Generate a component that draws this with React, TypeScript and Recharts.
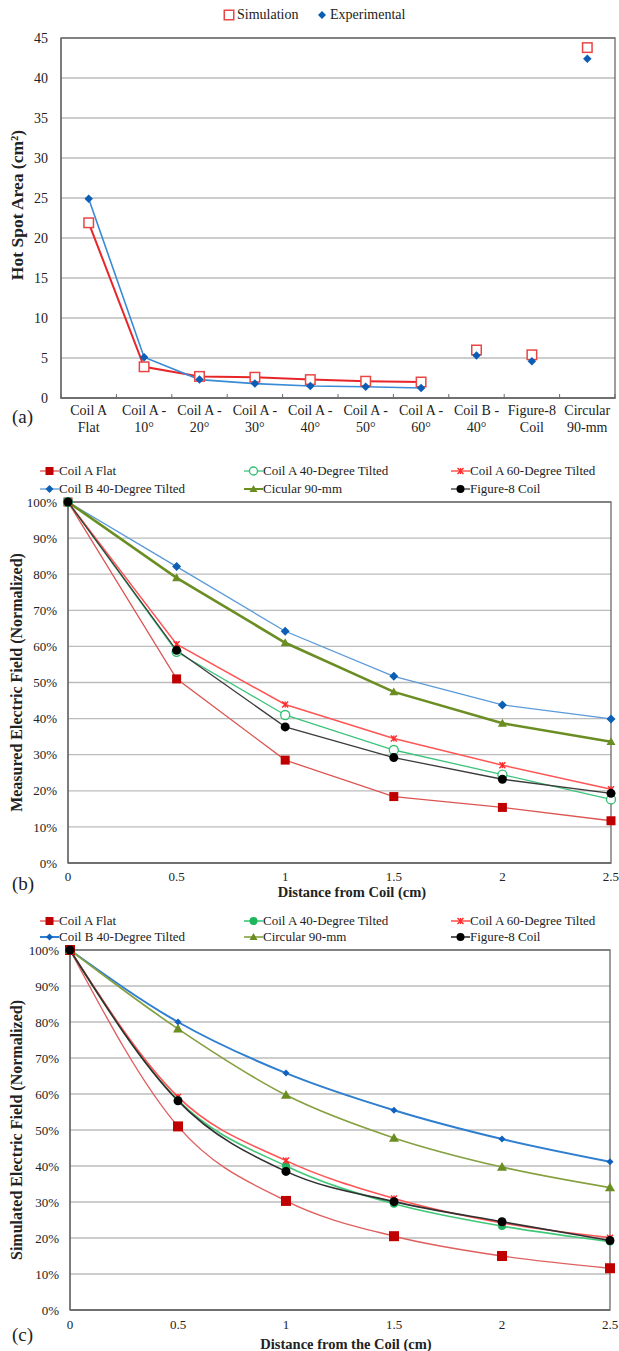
import React from 'react';
import { LineChart, Line, XAxis, YAxis, CartesianGrid, Legend, ReferenceArea, Label } from 'recharts';

const FONT = '"Liberation Serif", "Times New Roman", serif';
const TEXT = '#222';
const AXIS = '#6a6a6a';
const GRID = '#bcbcbc';

// ---- (a) hot spot area per coil ----
const catLine1 = ['Coil A', 'Coil A -', 'Coil A -', 'Coil A -', 'Coil A -', 'Coil A -', 'Coil A -', 'Coil B -', 'Figure-8', 'Circular'];
const catLine2 = ['Flat', '10°', '20°', '30°', '40°', '50°', '60°', '40°', 'Coil', '90-mm'];
const simulation = [21.9, 3.9, 2.7, 2.6, 2.3, 2.1, 2.0, 6.0, 5.4, 43.8];
const experimental = [24.9, 5.1, 2.3, 1.8, 1.5, 1.4, 1.25, 5.3, 4.6, 42.4];
const joinedCount = 7; // only the Coil A tilt points are joined
const areaTicks = [0, 5, 10, 15, 20, 25, 30, 35, 40, 45];

// ---- (b) measured / (c) simulated field vs distance ----
const distances = [0, 0.5, 1, 1.5, 2, 2.5];
const distanceTicks = [0, 0.5, 1, 1.5, 2, 2.5];
const percentTicks = [0, 10, 20, 30, 40, 50, 60, 70, 80, 90, 100];

const mCoilAFlat = [100, 51, 28.5, 18.4, 15.4, 11.7];
const mCoilA40 = [100, 58.5, 41, 31.3, 24.5, 17.6];
const mCoilA60 = [100, 60.6, 43.9, 34.5, 27.1, 20.4];
const mCoilB40 = [100, 82.1, 64.2, 51.7, 43.8, 39.9];
const mCircular = [100, 79, 61, 47.4, 38.7, 33.6];
const mFigure8 = [100, 58.9, 37.7, 29.2, 23.2, 19.3];

const sCoilAFlat = [100, 51, 30.3, 20.5, 15, 11.6];
const sCoilA40 = [100, 58.3, 40, 29.5, 23.3, 19];
const sCoilA60 = [100, 59.2, 41.5, 31, 24.2, 20.1];
const sCoilB40 = [100, 80, 65.8, 55.5, 47.5, 41.2];
const sCircular = [100, 78.1, 59.7, 47.8, 39.7, 34];
const sFigure8 = [100, 58.1, 38.5, 30.1, 24.5, 19.3];

type Kind = 'square' | 'openSquare' | 'diamond' | 'circle' | 'openCircle' | 'triangle' | 'star';

function Marker({ kind, cx, cy, color, size }: { kind: Kind; cx: number; cy: number; color: string; size: number }) {
  const h = size / 2;
  switch (kind) {
    case 'square':
      return <rect x={cx - h} y={cy - h} width={size} height={size} fill={color} />;
    case 'openSquare':
      return <rect x={cx - h} y={cy - h} width={size} height={size} fill="#fff" stroke={color} strokeWidth={1.5} />;
    case 'diamond':
      return <path d={`M${cx},${cy - h}L${cx + h},${cy}L${cx},${cy + h}L${cx - h},${cy}Z`} fill={color} />;
    case 'circle':
      return <circle cx={cx} cy={cy} r={h} fill={color} />;
    case 'openCircle':
      return <circle cx={cx} cy={cy} r={h} fill="#fff" stroke={color} strokeWidth={1.3} />;
    case 'triangle':
      return <path d={`M${cx},${cy - h}L${cx + h},${cy + h * 0.75}L${cx - h},${cy + h * 0.75}Z`} fill={color} />;
    case 'star':
      return (
        <g stroke={color} strokeWidth={1.4}>
          <line x1={cx - h} y1={cy - h} x2={cx + h} y2={cy + h} />
          <line x1={cx - h} y1={cy + h} x2={cx + h} y2={cy - h} />
          <line x1={cx} y1={cy - h} x2={cx} y2={cy + h} />
        </g>
      );
  }
  return null;
}

const dotFor = (kind: Kind, color: string, size: number) => (p: any) =>
  p.cy == null || p.value == null ? (
    <g key={`dot-${p.index}`} />
  ) : (
    <Marker key={`dot-${p.index}`} kind={kind} cx={p.cx} cy={p.cy} color={color} size={size} />
  );

// ---------- chart (a) ----------
const areaRows = catLine1.map((l1, i) => ({
  cat: `${l1}\n${catLine2[i]}`,
  simLine: i < joinedCount ? simulation[i] : null,
  expLine: i < joinedCount ? experimental[i] : null,
  simPt: i >= joinedCount ? simulation[i] : null,
  expPt: i >= joinedCount ? experimental[i] : null,
}));

const A_LEFT = 61;
const A_RIGHT = 615;
const BAND_A = (A_RIGHT - A_LEFT) / catLine1.length;

function CategoryTick(props: any) {
  const { x, y, payload, index } = props;
  const [top, bottom] = String(payload.value).split('\n');
  return (
    <g>
      <line x1={x - BAND_A / 2} x2={x - BAND_A / 2} y1={y - 4} y2={y + 1} stroke={AXIS} />
      {index === catLine1.length - 1 && <line x1={x + BAND_A / 2} x2={x + BAND_A / 2} y1={y - 4} y2={y + 1} stroke={AXIS} />}
      <text x={x} y={y + 16.5} textAnchor="middle" fontSize={14} fill={TEXT} fontFamily={FONT}>
        {top}
      </text>
      <text x={x} y={y + 34} textAnchor="middle" fontSize={14} fill={TEXT} fontFamily={FONT}>
        {bottom}
      </text>
    </g>
  );
}

function AreaLegend() {
  return (
    <div style={{ position: 'relative', width: 619, height: 30, fontFamily: FONT, fontSize: 14, color: TEXT }}>
      <svg style={{ position: 'absolute', left: 223, top: 9 }} width={12} height={12}>
        <Marker kind="openSquare" cx={6} cy={6} color="#e84545" size={9.5} />
      </svg>
      <span style={{ position: 'absolute', left: 237, top: 6, lineHeight: '18px' }}>Simulation</span>
      <svg style={{ position: 'absolute', left: 316, top: 9 }} width={12} height={12}>
        <Marker kind="diamond" cx={6} cy={6} color="#0b5db5" size={8} />
      </svg>
      <span style={{ position: 'absolute', left: 330, top: 6, lineHeight: '18px' }}>Experimental</span>
    </div>
  );
}

function AreaChart() {
  return (
    <LineChart width={619} height={450} data={areaRows} margin={{ top: 38, right: 619 - A_RIGHT, bottom: 0, left: 0 }}>
      <CartesianGrid vertical={false} stroke={GRID} strokeWidth={1.3} />
      <ReferenceArea y1={0} y2={45} fill="none" stroke={AXIS} strokeWidth={1.3} ifOverflow="visible" />
      <XAxis
        dataKey="cat"
        scale="band"
        interval={0}
        height={52}
        tickSize={0}
        tickMargin={0}
        axisLine={{ stroke: AXIS, strokeWidth: 1.3 }}
        tickLine={false}
        tick={<CategoryTick />}
      />
      <YAxis
        width={A_LEFT}
        domain={[0, 45]}
        ticks={areaTicks}
        tickSize={0}
        tickMargin={13}
        axisLine={{ stroke: AXIS, strokeWidth: 1.3 }}
        tickLine={false}
        tick={{ fontSize: 14, fill: TEXT, fontFamily: FONT }}
      >
        <Label
          content={() => (
            <text transform="translate(23,205) rotate(-90)" textAnchor="middle" fontSize={17.5} fontWeight="bold" fill={TEXT} fontFamily={FONT}>
              Hot Spot Area (cm²)
            </text>
          )}
        />
      </YAxis>
      <Legend verticalAlign="middle" align="center" wrapperStyle={{ top: 0, left: 0, width: 619, height: 30 }} content={() => <AreaLegend />} />
      <Line dataKey="simLine" name="Simulation" stroke="#e8262a" strokeWidth={2} dot={dotFor('openSquare', '#e84545', 9.5)} activeDot={false} isAnimationActive={false} />
      <Line dataKey="expLine" name="Experimental" stroke="#3a8bd6" strokeWidth={1.6} dot={dotFor('diamond', '#0b5db5', 8.5)} activeDot={false} isAnimationActive={false} />
      <Line dataKey="simPt" legendType="none" stroke="none" dot={dotFor('openSquare', '#e84545', 9.5)} activeDot={false} isAnimationActive={false} />
      <Line dataKey="expPt" legendType="none" stroke="none" dot={dotFor('diamond', '#0b5db5', 8.5)} activeDot={false} isAnimationActive={false} />
    </LineChart>
  );
}

// ---------- charts (b) and (c) ----------
type Series = { key: string; name: string; values: number[]; stroke: string; width: number; kind: Kind; color: string; size: number };

const measuredSeries: Series[] = [
  { key: 'flat', name: 'Coil A Flat', values: mCoilAFlat, stroke: '#dc5450', width: 1.3, kind: 'square', color: '#c00000', size: 9 },
  { key: 'a40', name: 'Coil A 40-Degree Tilted', values: mCoilA40, stroke: '#3cc47c', width: 1.3, kind: 'openCircle', color: '#2fbf6f', size: 9 },
  { key: 'a60', name: 'Coil A 60-Degree Tilted', values: mCoilA60, stroke: '#ff5555', width: 1.5, kind: 'star', color: '#ff2a2a', size: 6 },
  { key: 'b40', name: 'Coil B 40-Degree Tilted', values: mCoilB40, stroke: '#5a9ad8', width: 1.3, kind: 'diamond', color: '#0b5fb5', size: 9 },
  { key: 'circ', name: 'Cicular 90-mm', values: mCircular, stroke: '#6b8e23', width: 2.6, kind: 'triangle', color: '#6b8e23', size: 9 },
  { key: 'fig8', name: 'Figure-8 Coil', values: mFigure8, stroke: '#3c3c3c', width: 1.3, kind: 'circle', color: '#000', size: 9 },
];

const simulatedSeries: Series[] = [
  { key: 'flat', name: 'Coil A Flat', values: sCoilAFlat, stroke: '#e06060', width: 1.4, kind: 'square', color: '#c00000', size: 10 },
  { key: 'a40', name: 'Coil A 40-Degree Tilted', values: sCoilA40, stroke: '#40c878', width: 1.6, kind: 'circle', color: '#1fb45e', size: 8 },
  { key: 'a60', name: 'Coil A 60-Degree Tilted', values: sCoilA60, stroke: '#ff5555', width: 1.6, kind: 'star', color: '#ff2a2a', size: 6 },
  { key: 'b40', name: 'Coil B 40-Degree Tilted', values: sCoilB40, stroke: '#2f7fd0', width: 2, kind: 'diamond', color: '#1060c0', size: 7 },
  { key: 'circ', name: 'Circular 90-mm', values: sCircular, stroke: '#86a040', width: 1.6, kind: 'triangle', color: '#6b8e23', size: 10 },
  { key: 'fig8', name: 'Figure-8 Coil', values: sFigure8, stroke: '#303030', width: 1.6, kind: 'circle', color: '#000', size: 9 },
];

const legendCols = [40, 244, 451];

function SeriesLegend({ series, rows }: { series: Series[]; rows: number[] }) {
  return (
    <div style={{ position: 'relative', width: 619, height: 48, fontFamily: FONT, fontSize: 13, color: TEXT }}>
      {series.map((s, i) => {
        const left = legendCols[i % 3];
        const cy = rows[Math.floor(i / 3)];
        return (
          <React.Fragment key={s.key}>
            <svg style={{ position: 'absolute', left, top: cy - 6 }} width={19} height={12}>
              <line x1={0} x2={19} y1={6} y2={6} stroke={s.stroke} strokeWidth={Math.min(s.width, 2)} />
              <Marker kind={s.kind} cx={9.5} cy={6} color={s.color} size={Math.min(s.size, 8)} />
            </svg>
            <span style={{ position: 'absolute', left: left + 19, top: cy - 9, lineHeight: '18px', whiteSpace: 'nowrap' }}>{s.name}</span>
          </React.Fragment>
        );
      })}
    </div>
  );
}

function FieldChart({
  series,
  height,
  top,
  left,
  right,
  axisH,
  curve,
  yTitle,
  yTitleX,
  xTitle,
  xTitleX,
  xTitleBase,
  tickMargin,
  legendRows,
}: {
  series: Series[];
  height: number;
  top: number;
  left: number;
  right: number;
  axisH: number;
  curve: 'linear' | 'monotone';
  yTitle: string;
  yTitleX: number;
  xTitle: string;
  xTitleX: number;
  xTitleBase: number;
  tickMargin: number;
  legendRows: number[];
}) {
  const rows = distances.map((x, i) => {
    const r: Record<string, number> = { x };
    series.forEach((s) => (r[s.key] = s.values[i]));
    return r;
  });
  const plotMid = (top + height - axisH) / 2;
  return (
    <LineChart width={619} height={height} data={rows} margin={{ top, right: 619 - right, bottom: 0, left: 0 }}>
      <CartesianGrid vertical={false} stroke={GRID} strokeWidth={1.3} />
      <ReferenceArea y1={0} y2={100} fill="none" stroke={AXIS} strokeWidth={1.3} ifOverflow="visible" />
      <XAxis
        dataKey="x"
        type="number"
        domain={[0, 2.5]}
        ticks={distanceTicks}
        height={axisH}
        tickSize={0}
        tickMargin={tickMargin}
        axisLine={{ stroke: AXIS, strokeWidth: 1.3 }}
        tickLine={false}
        tick={{ fontSize: 13, fill: TEXT, fontFamily: FONT }}
      >
        <Label
          content={() => (
            <text x={xTitleX} y={xTitleBase} textAnchor="middle" fontSize={14.5} fontWeight="bold" fill={TEXT} fontFamily={FONT}>
              {xTitle}
            </text>
          )}
        />
      </XAxis>
      <YAxis
        width={left}
        domain={[0, 100]}
        ticks={percentTicks}
        tickFormatter={(v) => `${v}%`}
        tickSize={0}
        tickMargin={11}
        axisLine={{ stroke: AXIS, strokeWidth: 1.3 }}
        tickLine={false}
        tick={{ fontSize: 13, fill: TEXT, fontFamily: FONT }}
      >
        <Label
          content={() => (
            <text transform={`translate(${yTitleX},${plotMid}) rotate(-90)`} textAnchor="middle" fontSize={16} fontWeight="bold" fill={TEXT} fontFamily={FONT}>
              {yTitle}
            </text>
          )}
        />
      </YAxis>
      <Legend
        verticalAlign="middle"
        align="center"
        wrapperStyle={{ top: 0, left: 0, width: 619, height: 48 }}
        content={() => <SeriesLegend series={series} rows={legendRows} />}
      />
      {series.map((s) => (
        <Line
          key={s.key}
          dataKey={s.key}
          name={s.name}
          type={curve}
          stroke={s.stroke}
          strokeWidth={s.width}
          dot={dotFor(s.kind, s.color, s.size)}
          activeDot={false}
          isAnimationActive={false}
        />
      ))}
    </LineChart>
  );
}

export default function App() {
  return (
    <div style={{ position: 'absolute', left: 0, top: 0, width: 619, height: 1351, background: '#fff', fontFamily: FONT }}>
      <div style={{ position: 'absolute', left: 0, top: 0 }}>
        <AreaChart />
      </div>
      <div style={{ position: 'absolute', left: 0, top: 450 }}>
        <FieldChart
          series={measuredSeries}
          height={450}
          top={52}
          left={68}
          right={611}
          axisH={37}
          curve="linear"
          yTitle="Measured Electric Field (Normalized)"
          yTitleX={22}
          xTitle="Distance from Coil (cm)"
          xTitleX={352}
          xTitleBase={446.5}
          tickMargin={9}
          legendRows={[21, 39]}
        />
      </div>
      <div style={{ position: 'absolute', left: 0, top: 900 }}>
        <FieldChart
          series={simulatedSeries}
          height={451}
          top={50}
          left={70}
          right={610}
          axisH={41}
          curve="monotone"
          yTitle="Simulated Electric Field (Normalized)"
          yTitleX={22}
          xTitle="Distance from the Coil (cm)"
          xTitleX={346}
          xTitleBase={449}
          tickMargin={10}
          legendRows={[21, 37]}
        />
      </div>
      <svg style={{ position: 'absolute', left: 0, top: 0, pointerEvents: 'none' }} width={619} height={1351}>
        <text x={12} y={423} fontSize={19} fill={TEXT} fontFamily={FONT}>(a)</text>
        <text x={12} y={890} fontSize={19} fill={TEXT} fontFamily={FONT}>(b)</text>
        <text x={12} y={1341} fontSize={19} fill={TEXT} fontFamily={FONT}>(c)</text>
      </svg>
    </div>
  );
}
